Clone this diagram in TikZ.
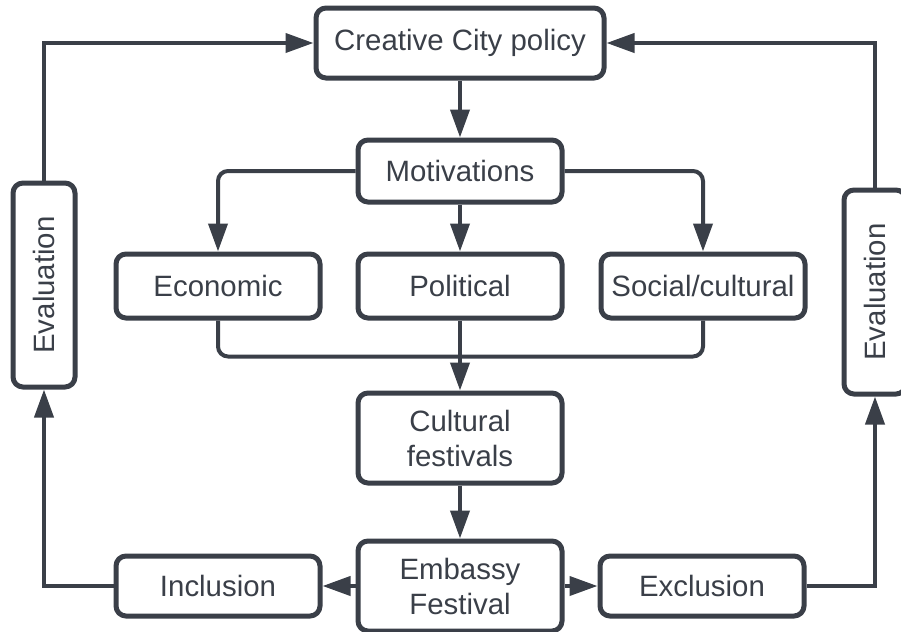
\documentclass[tikz,border=0pt]{standalone}
\usepackage{fontspec}
\setmainfont{Liberation Sans}
\usetikzlibrary{arrows.meta,positioning}
\definecolor{ink}{HTML}{3A3F48}

\begin{document}
\begin{tikzpicture}[
  x=0.5pt, y=-0.5pt,
  node distance=16.5pt and 16.5pt,
  box/.style={draw=ink, line width=2.5pt, rounded corners=5pt, align=center, text=ink, minimum width=102pt, minimum height=32pt, inner sep=2pt, font=\fontsize{14.7}{17.5}\selectfont},
  tall/.style={box, minimum height=45pt},
  side/.style={box, rotate=90, minimum width=102pt, minimum height=31pt},
  arrow/.style={-{Triangle[length=14pt,width=9.5pt]}, draw=ink, line width=2pt},
  link/.style={draw=ink, line width=2pt}
]
\useasboundingbox (0,0) rectangle (901,632);
\clip (0,0) rectangle (901,632);

\node[box, minimum width=144pt, minimum height=35pt] (policy) at (460,43) {Creative City policy};
\node[box, minimum height=31pt, below=28.5pt of policy] (motiv) {Motivations};
\node[box, below=23.5pt of motiv] (polit) {Political};
\node[box, left=of polit] (econ) {Economic};
\node[box, right=17pt of polit] (social) {Social/cultural};
\node[tall, below=35pt of polit] (cult) {Cultural\\festivals};
\node[tall, below=26.5pt of cult] (embassy) {Embassy\\Festival};
\node[box, minimum height=30pt, left=of embassy] (incl) {Inclusion};
\node[box, minimum height=30pt, right=of embassy] (excl) {Exclusion};
\node[side] (evalL) at (44,285) {Evaluation};
\node[side] (evalR) at (875,292) {Evaluation};
\coordinate[below=18pt of polit] (join);

\draw[arrow] (policy) -- (motiv);
\draw[arrow] (motiv) -- (polit);
\draw[arrow, rounded corners=5pt] (motiv.west) -| (econ);
\draw[arrow, rounded corners=5pt] (motiv.east) -| (social);
\draw[link, rounded corners=5pt] (econ) |- (join) -| (social);
\draw[arrow] (polit) -- (cult);
\draw[arrow] (cult) -- (embassy);
\draw[arrow] (embassy) -- (incl);
\draw[arrow] (embassy) -- (excl);
\draw[arrow] (incl) -| (evalL);
\draw[arrow] (excl) -| (evalR);
\draw[arrow] (evalL) |- (policy);
\draw[arrow] (evalR) |- (policy);
\end{tikzpicture}
\end{document}
